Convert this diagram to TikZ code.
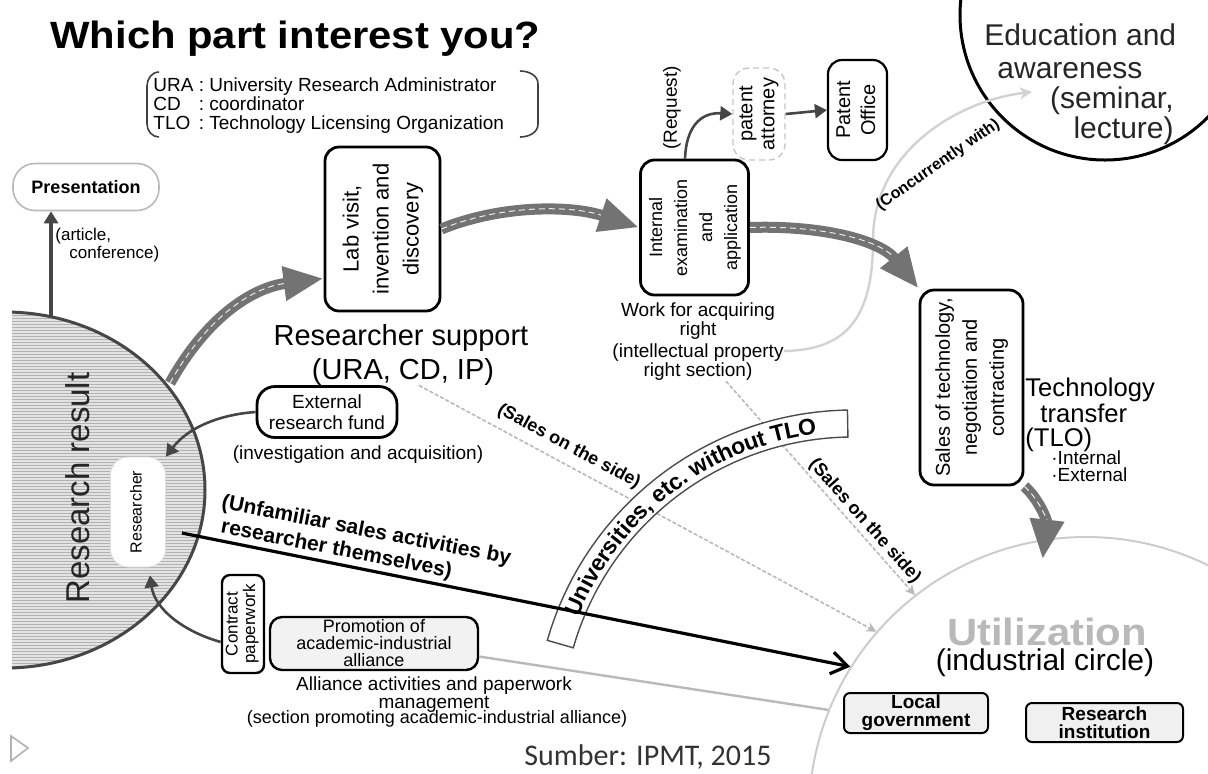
\documentclass[tikz,border=0pt]{standalone}
\usepackage{fontspec}
\setmainfont{Liberation Sans}
\newfontfamily\sumberfont{Carlito}
\usepackage{graphicx}
\usetikzlibrary{arrows.meta, calc, decorations.text}
\newcommand{\fsz}[2]{\fontsize{#1}{#2}\selectfont}
\newcommand{\vtext}[1]{\rotatebox{90}{\begin{tabular}{@{}c@{}}#1\end{tabular}}}
\tikzset{
  hardbox/.style={draw, line width=1.4pt, rounded corners=7pt, inner sep=2pt, align=center, fill=white},
  softbox/.style={draw=gray!45, densely dashed, line width=0.7pt, rounded corners=8pt, fill=white, inner sep=2pt},
  plain/.style={inner sep=0pt, align=center},
  bigflow/.style={draw=black!55, line width=5.5pt, -{Triangle[length=20pt,width=16pt]},
    postaction={draw=white!85!gray, line width=0.5pt, dash pattern=on 3pt off 2pt, shorten >=20pt, -}},
  thinflow/.style={draw=gray!55!black, line width=1.3pt, -{Triangle[length=6pt,width=7pt]}},
  sideflow/.style={draw=gray!55, line width=0.8pt, dash pattern=on 2pt off 1pt, -{Stealth[length=5pt,width=5pt]}},
  sidelbl/.style={inner sep=0pt, font=\bfseries\fsz{9}{10}},
  selfsale/.style={draw=black, line width=1.6pt, -{Straight Barb[length=8pt,width=11pt,line width=1.6pt]}},
  concflow/.style={draw=gray!35, line width=1.2pt, -{Stealth[length=6pt,width=6pt]}},
  lbox/.style={draw, line width=1pt, fill=gray!12, rounded corners=3pt, align=center, inner sep=1pt, font=\bfseries\fsz{9.5}{9}},
  brk/.style={draw=black!75, line width=0.8pt}
}

\begin{document}
\begin{tikzpicture}[x=0.5pt, y=-0.5pt]
\useasboundingbox (0,0) rectangle (1208,773);
\clip (0,0) rectangle (1208,773);

\begin{scope}
\clip (12,0) rectangle (420,773);
\fill[gray!22] (5,490) ellipse [x radius=100pt, y radius=89pt];
\begin{scope}
\clip (5,490) ellipse [x radius=100pt, y radius=89pt];
\foreach \yy in {300,303,...,680}
  \draw[gray!60, line width=0.35pt] (0,\yy) -- (220,\yy);
\end{scope}
\draw[draw=gray!55!black, line width=1.5pt] (5,490) ellipse [x radius=100pt, y radius=89pt];
\end{scope}
\coordinate (rtop) at (51,318);
\coordinate (rres) at (170,383);
\coordinate (bandc) at (853,728);

\node[plain, anchor=base west, font=\bfseries\fsz{19}{22}] (title) at (50,48) {\scalebox{1.1}[1]{Which part interest you?}};
\node[plain, anchor=base west, font=\fsz{9.5}{9.3}] (lgd) at (153,91)
  {\begin{tabular}[t]{@{}l@{\ :\ }l@{}}URA & University Research Administrator\\CD & coordinator\\TLO & Technology Licensing Organization\end{tabular}};
\draw[brk] (159,72) to[out=180,in=90] (147,86) -- (147,124) to[out=-90,in=180] (159,137);
\draw[brk] (520,71) to[out=0,in=90] (538,84) -- (538,124) to[out=-90,in=0] (520,137);

\node[draw=gray!55, line width=0.8pt, rounded corners=11pt, minimum width=73pt, minimum height=23.5pt, font=\bfseries\fsz{9}{10}] (pres) at (86,187) {Presentation};
\node[plain, anchor=base west, align=left, font=\fsz{8.5}{9}] (art) at (55,258) {(article,\\\hspace*{7pt}conference)};

\node[plain, rotate=90, font=\fsz{16.5}{18}, text=black!85] (rr) at (78,488) {Research result};
\node[draw=gray!25, fill=white, rounded corners=9pt, minimum width=27.5pt, minimum height=55pt, inner sep=0pt, font=\fsz{8}{9}] (res) at (138,512) {\vtext{Researcher}};

\node[hardbox, minimum width=57.5pt, minimum height=82pt, font=\fsz{11}{15}] (lab) at (382.5,229) {\vtext{Lab visit,\\invention and\\discovery}};
\node[plain, anchor=base, font=\fsz{14.5}{16}] (rsup) at (401,345) {Researcher support};
\node[plain, anchor=base, font=\fsz{14.5}{16}] (ura) at (403,379) {(URA, CD, IP)};

\node[hardbox, minimum width=53.5pt, minimum height=67.5pt, font=\fsz{9}{12.5}] (intl) at (694.5,227.5) {\vtext{Internal\\examination\\and\\application}};
\node[plain, anchor=north, font=\fsz{9.5}{8.2}] (wrk) at (698,302) {Work for acquiring\\right};
\node[plain, anchor=north, font=\fsz{9.5}{8.5}] (ipr) at (698,343) {(intellectual property\\right section)};
\node[plain, rotate=90, font=\fsz{9.5}{10}] (req) at (672,108) {(Request)};
\node[softbox, minimum width=26pt, minimum height=46pt, font=\fsz{10}{11}] (patt) at (759,114) {\vtext{patent\\attorney}};
\node[hardbox, line width=1.1pt, minimum width=29.5pt, minimum height=50pt, font=\fsz{10}{12.5}] (poff) at (857.5,110) {\vtext{Patent\\Office}};

\node[circle, draw, line width=1.5pt, minimum size=145pt, inner sep=0pt] (edu) at (1105,15) {};
\node[plain, anchor=north west, align=left, font=\fsz{15}{16.5}, text=black!85] (edut) at (984,23) {Education and\\\hspace*{6.5pt}awareness};
\node[plain, anchor=north east, align=right, font=\fsz{15}{15}, text=black!85] (sem) at (1174,86) {(seminar,\\lecture)};

\node[hardbox, minimum width=51.5pt, minimum height=97.5pt, font=\fsz{10}{13.5}] (sales) at (971.5,387.5) {\vtext{Sales of technology,\\negotiation and\\contracting}};
\node[plain, anchor=north west, align=left, font=\fsz{12.8}{11.75}] (tt) at (1025,378) {Technology\\\hspace*{7.5pt}transfer\\(TLO)};
\node[plain, anchor=north west, align=left, font=\fsz{9.5}{8.5}] (ie) at (1051,450) {·Internal\\·External};

\node[circle, draw=gray!40, line width=1pt, minimum size=277pt, inner sep=0pt] (util) at (1086,814) {};
\node[plain, anchor=base, font=\bfseries\fsz{19}{22}, text=gray!55] (utl) at (1047,645) {\scalebox{1.1}[1]{Utilization}};
\node[plain, anchor=base, font=\fsz{15}{16}] (ind) at (1045,670) {(industrial circle)};
\node[lbox, minimum width=72pt, minimum height=20pt] (lgov) at (916,713) {Local\\government};
\node[lbox, minimum width=78.5pt, minimum height=19.5pt] (rins) at (1104.5,722.5) {Research\\institution};

\node[hardbox, minimum width=70pt, minimum height=25.5pt, font=\fsz{9.5}{10.5}, rounded corners=9pt] (ext) at (327,412) {External\\research fund};
\node[plain, anchor=base, font=\fsz{9.5}{10}] (inv) at (358,459) {(investigation and acquisition)};
\node[hardbox, line width=1.2pt, minimum width=21pt, minimum height=49pt, inner sep=0pt, rounded corners=4pt, font=\fsz{8.5}{8.5}] (cpw) at (243,624) {\vtext{Contract\\paperwork}};
\node[hardbox, line width=1.2pt, fill=gray!10, minimum width=104pt, minimum height=26.5pt, inner sep=0pt, rounded corners=6pt, font=\fsz{9}{8.5}] (prom) at (374,643.5) {Promotion of\\academic-industrial\\alliance};
\node[plain, anchor=north, font=\fsz{9.5}{9}] (alli) at (434,676) {Alliance activities and paperwork\\management};
\node[plain, anchor=base, font=\fsz{9}{10}] (sect) at (437,723) {(section promoting academic-industrial alliance)};

\node[plain, anchor=base, font=\sumberfont\fsz{15}{17}, text=black!80] (src) at (648,765) {Sumber: IPMT, 2015};
\draw[gray!60, line width=0.8pt] (11,736) -- (28,748) -- (11,761) -- cycle;

\draw[thinflow, line width=1.8pt] (rtop) -- (rtop |- pres.south);
\draw[concflow] ([yshift=-4pt]ipr.north east) .. controls (845,350) and (873,320) .. (873,240) .. controls (873,150) and (960,100) .. ([shift={(-9pt,-3pt)}]sem.north west);
\node[plain, rotate=35, font=\bfseries\fsz{8}{9}] (conc) at (938,165) {(Concurrently with)};

\draw[bigflow] (rres) .. controls (205,320) and (250,288) .. ([yshift=17pt]lab.south west);
\draw[bigflow] (lab.east) .. controls (500,205) and (570,205) .. (intl.west);
\draw[bigflow] (intl.east) .. controls (820,225) and (880,240) .. (sales.north west);
\draw[bigflow] (sales.south east) .. controls (1038,498) and (1047,520) .. ([yshift=-10pt]util.99);

\draw[thinflow] ([xshift=-4.75pt]intl.north) .. controls (686,128) and (700,112) .. (patt.west);
\draw[thinflow] (patt.east) -- (poff.west);
\draw[thinflow] (ext.west) .. controls (225,414) and (190,425) .. (res.north east);
\draw[thinflow] ([yshift=-9pt]cpw.west) .. controls (185,632) and (155,610) .. ([shift={(-8pt,-4pt)}]res.south east);
\draw[draw=gray!55, line width=1.2pt] ([yshift=-6.5pt]prom.east) -- (util.158);

\draw[sideflow] ([xshift=8pt]ura.south) -- (util.139) node[pos=0.31, sloped, above=4pt, sidelbl] {(Sales on the side)};
\draw[sideflow] ([xshift=14pt]ipr.south) -- (util.128) node[pos=0.69, sloped, above=1pt, sidelbl] {(Sales on the side)};

\draw[draw=black!70, line width=0.7pt, fill=white] ($(bandc)+(164:145.5pt)$) arc[start angle=164, end angle=91, radius=145.5pt]
  -- ($(bandc)+(91:159pt)$) arc[start angle=91, end angle=164, radius=159pt] -- cycle;
\path[decorate, decoration={text along path, text align=center, raise=-4pt,
  text={|\bfseries\fsz{11.5}{12}|Universities, etc. without TLO}}]
  ($(bandc)+(164:152pt)$) arc[start angle=164, end angle=91, radius=152pt];

\draw[selfsale] ([shift={(8pt,-10.5pt)}]res.east) -- (util.148);
\node[plain, rotate=-11, align=left, font=\bfseries\fsz{10.5}{12}] (unf) at (364,543) {(Unfamiliar sales activities by\\\hspace*{2pt}researcher themselves)};
\end{tikzpicture}
\end{document}
